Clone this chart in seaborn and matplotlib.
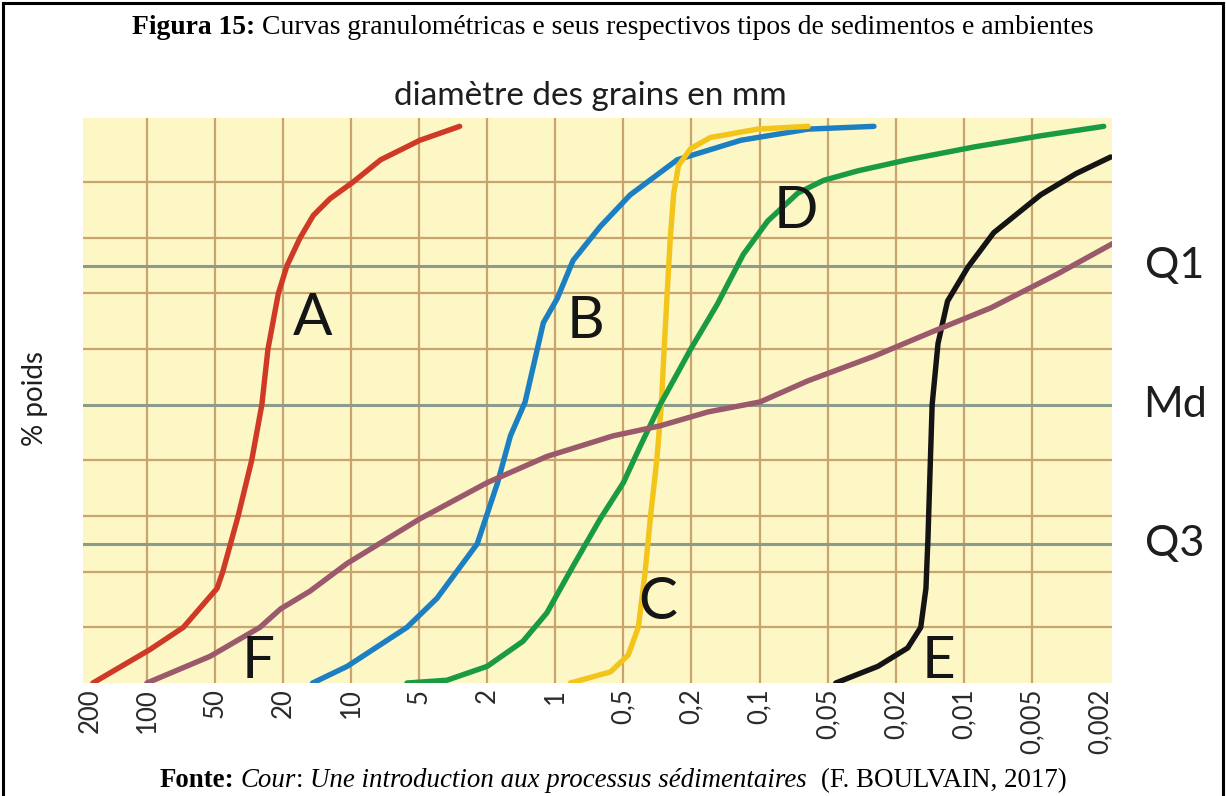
import numpy as np
import pandas as pd
import matplotlib
matplotlib.use('Agg')
import matplotlib.pyplot as plt
import matplotlib.transforms as mtransforms
import seaborn as sns

# grain size classes of the x axis (mm), coarse -> fine
class_mm = [200, 100, 50, 20, 10, 5, 2, 1, 0.5, 0.2, 0.1, 0.05, 0.02, 0.01, 0.005, 0.002]
class_labels = ['200', '100', '50', '20', '10', '5', '2', '1', '0,5', '0,2', '0,1',
                '0,05', '0,02', '0,01', '0,005', '0,002']
# every class gets one grid column; the first one is a bit narrower in the original
class_pos = [0.17] + list(range(1, 16))

# cumulative curves: diameter (mm) vs % poids
a_mm = [194, 97, 69, 48.6, 45, 36.6, 30.5, 26.6, 24.5, 21.3, 19.2, 16.8, 14.7, 12.4, 9.8,
        7.4, 4.95, 2.9]
a_pct = [0, 6, 10, 17, 20, 30, 40, 50, 60, 70, 75, 80, 84, 87, 90, 94, 97.5, 100]

b_mm = [14.8, 10.4, 5.66, 3.94, 2.29, 1.80, 1.58, 1.36, 1.13, 0.98, 0.835, 0.633, 0.456,
        0.242, 0.121, 0.061, 0.0268]
b_pct = [0, 3, 10, 15.2, 25, 36, 44.4, 50.5, 64.7, 69.1, 75.9, 82, 87.7, 94, 97.5, 99.5, 100]

c_mm = [0.858, 0.570, 0.469, 0.409, 0.373, 0.347, 0.319, 0.300, 0.289, 0.275, 0.266,
        0.254, 0.238, 0.202, 0.165, 0.102, 0.061]
c_pct = [0, 2, 5, 10, 20, 30, 40, 50, 60, 72, 80, 88, 93, 96, 98, 99.5, 100]

d_mm = [5.66, 3.44, 2.0, 1.39, 1.09, 0.835, 0.633, 0.5, 0.398, 0.305, 0.202, 0.154, 0.118,
        0.092, 0.0678, 0.0521, 0.0334, 0.0177, 0.0090, 0.00444, 0.0019]
d_pct = [0, 0.5, 3, 7.5, 12.6, 21, 29.5, 36, 42.6, 50, 60, 68, 77, 83, 88, 90.3, 92, 94,
         96.3, 98.3, 100]

e_mm = [0.0448, 0.0254, 0.0177, 0.0155, 0.0147, 0.0144, 0.0141, 0.0138, 0.0130, 0.0118,
        0.00959, 0.00737, 0.00444, 0.00276, 0.00173]
e_pct = [0, 3, 6.3, 10, 17, 26, 38, 50, 61, 68.6, 74.7, 80.9, 87.7, 91.5, 94.5]

f_mm = [100, 52.5, 27.3, 20.7, 15.2, 10.4, 4.95, 2.0, 1.09, 0.555, 0.305, 0.169, 0.0993,
        0.061, 0.0268, 0.0136, 0.00758, 0.00353, 0.00165]
f_pct = [0, 4.8, 10, 13.3, 16.5, 21.5, 29.5, 36, 40.7, 44.4, 46.2, 48.7, 50.5, 54.3, 58.7,
         63.2, 67.4, 73.5, 79.1]

curve_names = ['A', 'B', 'C', 'D', 'E', 'F']
curve_colors = ['#cf3a26', '#1c7fc2', '#f3c41a', '#1b9a44', '#141414', '#9b5a6c']

# where the curve letters sit (mm, %)
letter_mm = [14.8, 0.737, 0.313, 0.069, 0.0129, 28]
letter_pct = [65.5, 65, 14.4, 84.7, 3.8, 3.8]

grid_pct = [10, 20, 30, 40, 60, 70, 80, 90]
quart_names = ['Q1', 'Md', 'Q3']
quart_pct = [75, 50, 25]

# long table for seaborn
frames = []
for name, xs, ys in zip(curve_names, [a_mm, b_mm, c_mm, d_mm, e_mm, f_mm],
                        [a_pct, b_pct, c_pct, d_pct, e_pct, f_pct]):
    frames.append(pd.DataFrame({'mm': xs, 'pct': ys, 'curve': name}))
df = pd.concat(frames, ignore_index=True)

# x scale: one column per class, log inside a class
log_cls = np.log10(class_mm)[::-1]
pos_cls = -np.array(class_pos, dtype=float)[::-1]


def fwd(d):
    L = np.log10(np.clip(np.asarray(d, dtype=float), 1e-12, None))
    p = np.interp(L, log_cls, pos_cls)
    lo_slope = (pos_cls[1] - pos_cls[0]) / (log_cls[1] - log_cls[0])
    hi_slope = (pos_cls[-1] - pos_cls[-2]) / (log_cls[-1] - log_cls[-2])
    p = np.where(L < log_cls[0], pos_cls[0] + (L - log_cls[0]) * lo_slope, p)
    p = np.where(L > log_cls[-1], pos_cls[-1] + (L - log_cls[-1]) * hi_slope, p)
    return p


def inv(p):
    p = np.asarray(p, dtype=float)
    L = np.interp(p, pos_cls, log_cls)
    lo_slope = (log_cls[1] - log_cls[0]) / (pos_cls[1] - pos_cls[0])
    hi_slope = (log_cls[-1] - log_cls[-2]) / (pos_cls[-1] - pos_cls[-2])
    L = np.where(p < pos_cls[0], log_cls[0] + (p - pos_cls[0]) * lo_slope, L)
    L = np.where(p > pos_cls[-1], log_cls[-1] + (p - pos_cls[-1]) * hi_slope, L)
    return 10 ** L


sns.set_theme(style='white')
plt.rcParams['font.family'] = ['Lato', 'DejaVu Sans']

W, H = 1226, 796
fig = plt.figure(figsize=(W / 100, H / 100), dpi=100)
fig.patch.set_facecolor('white')
ax = fig.add_axes([83 / W, 1 - 683 / H, (1112 - 83) / W, (683 - 118) / H])
ax.set_facecolor('#fdf7c6')
ax.set_xscale('function', functions=(fwd, inv))

# grid
ax.vlines(class_mm[1:-1], 0, 101.5, color='#c9a46c', lw=1.6, zorder=1)
ax.hlines(grid_pct, class_mm[0] * 2, class_mm[-1] / 2, color='#c9a46c', lw=1.6, zorder=1)
ax.hlines(quart_pct, class_mm[0] * 2, class_mm[-1] / 2, color='#8c9c8a', lw=2.2, zorder=1)

sns.lineplot(data=df, x='mm', y='pct', hue='curve', palette=curve_colors,
             estimator=None, sort=False, lw=3.9, legend=False, ax=ax, zorder=3)

ax.set_xlim(219, 0.0017)
ax.set_ylim(0, 101.5)
ax.set_xticks(class_mm)
ax.set_xticklabels(class_labels, rotation=90, fontsize=18.5, color='#2a2a2a', va='top')
ax.set_yticks([])
ax.tick_params(axis='x', length=0, pad=4)
ax.set_xlabel('')
ax.set_ylabel('')
for s in ax.spines.values():
    s.set_visible(False)

for name, xm, yp in zip(curve_names, letter_mm, letter_pct):
    ax.text(xm, yp, name, fontsize=42, color='#151515', ha='center', va='center',
            zorder=4)

qtrans = mtransforms.blended_transform_factory(ax.transAxes, ax.transData)
for name, yp in zip(quart_names, quart_pct):
    ax.text(1.061, yp, name, transform=qtrans, fontsize=31, color='#1e1e1e',
            ha='center', va='center')

fig.text(590 / W, 1 - 96 / H, 'diamètre des grains en mm', fontsize=24,
         color='#1e1e1e', ha='center', va='center')
fig.text(35 / W, 1 - 398 / H, '% poids', fontsize=20, rotation=90, color='#1e1e1e',
         ha='center', va='center')


def mixed_line(parts, y, size):
    # parts: (text, weight, style, gap_before_in_spaces)
    renderer = fig.canvas.get_renderer()
    probe = fig.text(0, 0, 'a a', fontsize=size, family='Liberation Serif')
    probe2 = fig.text(0, 0, 'aa', fontsize=size, family='Liberation Serif')
    sp = probe.get_window_extent(renderer).width - probe2.get_window_extent(renderer).width
    probe.remove()
    probe2.remove()
    texts, widths = [], []
    for s, w, st, gap in parts:
        t = fig.text(0, y, s, fontsize=size, family='Liberation Serif', fontweight=w,
                     fontstyle=st, va='baseline', color='black')
        texts.append((t, gap))
        widths.append(t.get_window_extent(renderer).width + gap * sp)
    x = (W - sum(widths)) / 2
    for (t, gap), wd in zip(texts, widths):
        x += gap * sp
        t.set_x(x / W)
        x += wd - gap * sp


mixed_line([('Figura 15:', 'bold', 'normal', 0),
            ('Curvas granulométricas e seus respectivos tipos de sedimentos e ambientes',
             'normal', 'normal', 1)], 1 - 34 / H, 19.9)
mixed_line([('Fonte:', 'bold', 'normal', 0),
            ('Cour', 'normal', 'italic', 1),
            (':', 'normal', 'normal', 0),
            ('Une introduction aux processus sédimentaires', 'normal', 'italic', 1),
            ('(F. BOULVAIN, 2017)', 'normal', 'normal', 2)], 1 - 787 / H, 19.4)

# page frame (bottom edge falls outside the picture)
fig.add_artist(plt.Rectangle((3 / W, -0.02), (W - 6) / W, 1.02 - 3 / H,
                             transform=fig.transFigure, fill=False, lw=2.2, color='black'))

fig.savefig('out.png', dpi=100)
